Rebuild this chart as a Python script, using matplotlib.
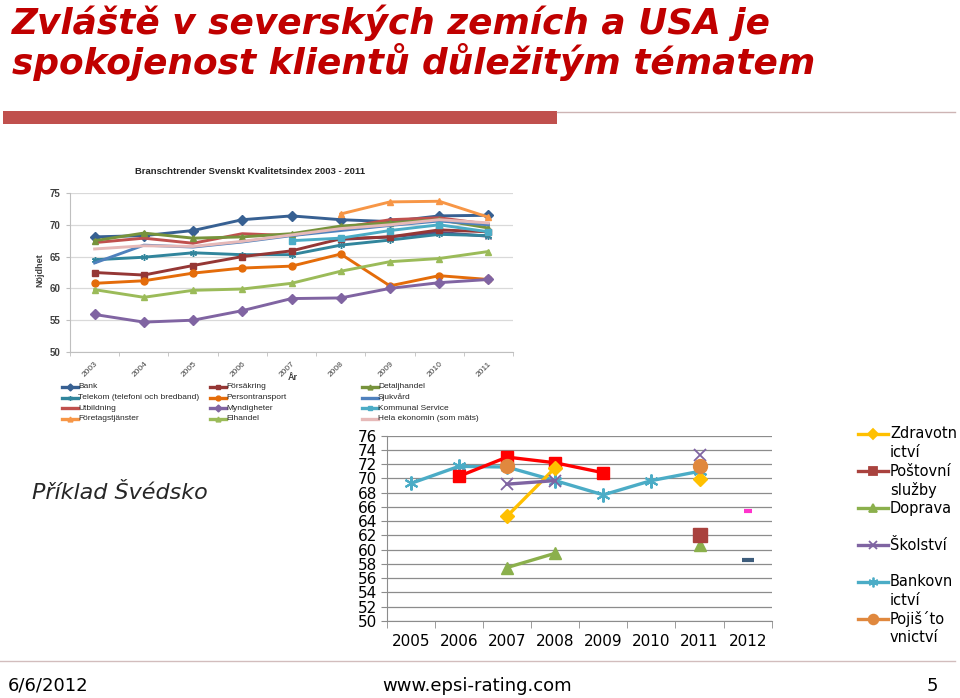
import matplotlib.pyplot as plt
import numpy as np
from matplotlib.lines import Line2D
from matplotlib.patches import Rectangle

W, H = 960, 698
nan = np.nan

# --- Swedish chart (Branschtrender SKI 2003-2011) ---
se_years = ['2003', '2004', '2005', '2006', '2007', '2008', '2009', '2010', '2011']
bank = [68.1, 68.3, 69.1, 70.8, 71.4, 70.8, 70.5, 71.4, 71.5]
forsakring = [62.5, 62.1, 63.6, 65.0, 65.9, 67.8, 68.1, 69.2, 68.9]
detaljhandel = [67.5, 68.7, 67.9, 68.1, 68.6, 69.8, 70.3, 70.8, 69.5]
telekom = [64.5, 64.9, 65.6, 65.3, 65.3, 66.8, 67.6, 68.5, 68.3]
persontransport = [60.8, 61.2, 62.4, 63.2, 63.5, 65.4, 60.4, 62.0, 61.4]
sjukvard = [64.0, 66.8, 66.5, 67.3, 68.3, 69.1, 69.9, 70.6, 70.0]
utbildning = [67.2, 67.9, 67.1, 68.6, 68.3, 69.5, 70.8, 71.1, 70.1]
myndigheter = [55.9, 54.7, 55.0, 56.5, 58.4, 58.5, 60.0, 60.9, 61.4]
kommunal = [nan, nan, nan, nan, 67.5, 67.9, 69.1, 70.0, 68.9]
foretag = [nan, nan, nan, nan, nan, 71.7, 73.6, 73.7, 71.2]
elhandel = [59.8, 58.6, 59.7, 59.9, 60.8, 62.7, 64.2, 64.7, 65.8]
hela = [66.2, 66.7, 66.6, 67.4, 68.4, 69.4, 70.0, 70.8, 70.3]
ovrigt = [nan, nan, nan, nan, nan, 67.7, 68.1, 68.8, 68.2]

# --- Czech chart 2005-2012 ---
cz_years = ['2005', '2006', '2007', '2008', '2009', '2010', '2011', '2012']
zdravotnictvi = [nan, nan, 64.7, 71.5, nan, nan, 69.9, nan]
postovni = [nan, nan, nan, nan, nan, nan, 62.0, nan]
doprava = [nan, nan, 57.5, 59.5, nan, nan, 60.6, nan]
skolstvi = [nan, nan, 69.2, 69.7, nan, nan, 73.3, nan]
bankovnictvi = [69.3, 71.7, 71.6, 69.7, 67.7, 69.7, 71.0, nan]
pojistovnictvi = [nan, nan, 71.8, nan, nan, nan, 71.8, nan]
telekomunikace = [nan, 70.3, 73.0, 72.2, 70.8, nan, nan, nan]
energetika = [nan, nan, nan, nan, nan, nan, nan, 65.5]
plyn = [nan, nan, nan, nan, nan, nan, nan, 58.6]


def fx(x):
    return x / W


def fy(y):
    return 1 - y / H


fig = plt.figure(figsize=(9.6, 6.98), dpi=100)
fig.patch.set_facecolor('white')

# title
tfont = dict(family='DejaVu Sans', weight='bold', style='italic', color='#C00000', fontsize=25.8)
fig.text(fx(12), fy(34), 'Zvláště v severských zemích a USA je', va='baseline', **tfont)
fig.text(fx(12), fy(74), 'spokojenost klientů důležitým tématem', va='baseline', **tfont)
fig.add_artist(Rectangle((fx(3), fy(124)), fx(557) - fx(3), fy(111) - fy(124),
                         transform=fig.transFigure, color='#C0504D', lw=0))
fig.add_artist(Line2D([fx(557), fx(955)], [fy(111.5), fy(111.5)], color='#CDB4B4', lw=1))

# ---------- top (Swedish) chart ----------
se_series = [
    ('Bank', bank, '#376092', 'D'),
    ('Telekom (telefoni och bredband)', telekom, '#31859C', (6, 2, 0)),
    ('Utbildning', utbildning, '#C0504D', None),
    ('Företagstjänster', foretag, '#F79646', '^'),
    ('Försäkring', forsakring, '#953735', 's'),
    ('Persontransport', persontransport, '#E46C0A', 'o'),
    ('Myndigheter', myndigheter, '#8064A2', 'D'),
    ('Elhandel', elhandel, '#9BBB59', '^'),
    ('Detaljhandel', detaljhandel, '#77933C', '^'),
    ('Sjukvård', sjukvard, '#4F81BD', None),
    ('Kommunal Service', kommunal, '#4BACC6', 's'),
    ('Hela ekonomin (som mäts)', hela, '#E6B9B8', None),
]

ax1 = fig.add_axes([fx(70), fy(352), fx(513) - fx(70), fy(193) - fy(352)])
xs = np.arange(len(se_years))
ax1.plot(xs, ovrigt, color='#5F497A', lw=2.1, marker='x', ms=4, zorder=3)
for name, vals, col, mk in se_series:
    ax1.plot(xs, vals, color=col, lw=2.1, marker=mk, ms=5, mec=col, zorder=3)
ax1.set_xlim(-0.5, len(se_years) - 0.5)
ax1.set_ylim(50, 75)
ax1.set_yticks(np.arange(50, 76, 5))
ax1.yaxis.grid(True, color='#D9D9D9', lw=0.9)
ax1.set_axisbelow(True)
for s in ['top', 'right']:
    ax1.spines[s].set_visible(False)
for s in ['left', 'bottom']:
    ax1.spines[s].set_color('#BFBFBF')
ax1.set_xticks(xs)
ax1.set_xticklabels(se_years, rotation=45, ha='right', va='top', rotation_mode='anchor',
                    fontsize=6, color='#404040', family='Liberation Sans')
ax1.set_xticks(np.arange(-0.5, len(se_years), 1), minor=True)
ax1.tick_params(axis='x', which='major', length=0, pad=6)
ax1.tick_params(axis='x', which='minor', length=3, color='#BFBFBF')
ax1.tick_params(axis='y', length=3, color='#BFBFBF', labelsize=7, labelcolor='#404040', pad=4)
for lab in ax1.get_yticklabels():
    lab.set_fontweight('bold')
    lab.set_family('Liberation Sans')
fig.text(fx(250), fy(172), 'Branschtrender Svenskt Kvalitetsindex 2003 - 2011', ha='center', va='center',
         fontsize=6.8, weight='bold', family='Liberation Sans', color='#262626')
fig.text(fx(40), fy(270), 'Nöjdhet', rotation=90, ha='center', va='center',
         fontsize=6.5, weight='bold', family='Liberation Sans', color='#404040')
fig.text(fx(293), fy(377), 'År', ha='center', va='center',
         fontsize=6.5, weight='bold', family='Liberation Sans', color='#404040')

# legend of the Swedish chart (3 columns x 4 rows)
col_x = [62, 210, 362]
row_y = [387, 397.5, 408, 418.5]
for i, (name, vals, col, mk) in enumerate(se_series):
    cx = col_x[i // 4]
    cy = row_y[i % 4]
    fig.add_artist(Line2D([fx(cx), fx(cx + 16)], [fy(cy), fy(cy)], color=col, lw=2.4))
    if mk is not None:
        fig.add_artist(Line2D([fx(cx + 8)], [fy(cy)], color=col, marker=mk, ms=3.5, mec=col))
    fig.text(fx(cx + 16), fy(cy), name, ha='left', va='center', fontsize=6,
             family='Liberation Sans', color='#262626')

# ---------- Czech chart ----------
fig.text(fx(32), fy(493), 'Příklad Švédsko', ha='left', va='center', fontsize=16,
         style='italic', color='#262626')

ax2 = fig.add_axes([fx(386.7), fy(621), fx(771.7) - fx(386.7), fy(435.7) - fy(621)])
xc = np.arange(len(cz_years))
ax2.plot(xc, bankovnictvi, color='#4BACC6', lw=2.4, marker=(6, 2, 0), ms=10, mew=1.5, zorder=3)
ax2.plot(xc, telekomunikace, color='#FF0000', lw=2.4, marker='s', ms=9, zorder=4)
ax2.plot(xc, zdravotnictvi, color='#FFC000', lw=2.4, marker='D', ms=7, zorder=4)
ax2.plot(xc, skolstvi, color='#7F64A2', lw=2.4, marker='x', ms=9, mew=1.3, zorder=4)
ax2.plot(xc, doprava, color='#8BB04C', lw=2.4, marker='^', ms=9, zorder=4)
ax2.plot(xc, postovni, color='#A9423E', lw=2.4, marker='s', ms=10, zorder=4)
ax2.plot(xc, pojistovnictvi, color='#E0883E', lw=2.4, marker='o', ms=10, zorder=4)
ax2.plot(xc, energetika, color='#FF33CC', lw=0, marker='_', ms=6, mew=3, zorder=4)
ax2.plot(xc, plyn, color='#3E5D7C', lw=0, marker='_', ms=8, mew=3, zorder=4)

ax2.set_xlim(-0.5, len(cz_years) - 0.5)
ax2.set_ylim(50, 76)
ax2.set_yticks(np.arange(50, 77, 2))
ax2.yaxis.grid(True, color='#8C8C8C', lw=0.9)
ax2.set_axisbelow(True)
for s in ['top', 'right']:
    ax2.spines[s].set_visible(False)
for s in ['left', 'bottom']:
    ax2.spines[s].set_color('#8C8C8C')
ax2.set_xticks(xc)
ax2.set_xticklabels(cz_years, fontsize=11, color='black')
ax2.set_xticks(np.arange(-0.5, len(cz_years), 1), minor=True)
ax2.tick_params(axis='x', which='major', length=0, pad=9)
ax2.tick_params(axis='x', which='minor', length=5, color='#8C8C8C')
ax2.tick_params(axis='y', length=4, color='#8C8C8C', labelsize=11, pad=3)

# legend of the Czech chart
cz_legend = [
    ('Zdravotn\nictví', '#FFC000', 'D', 5),
    ('Poštovní\nslužby', '#A9423E', 's', 6),
    ('Doprava', '#8BB04C', '^', 6),
    ('Školství', '#7F64A2', 'x', 6),
    ('Bankovn\nictví', '#4BACC6', (6, 2, 0), 7),
    ('Pojiš´to\nvnictví', '#E0883E', 'o', 7),
]
leg_y = [434, 471, 508, 545, 582, 619]
for (name, col, mk, ms), ly in zip(cz_legend, leg_y):
    fig.add_artist(Line2D([fx(858), fx(888)], [fy(ly), fy(ly)], color=col, lw=2.4))
    fig.add_artist(Line2D([fx(873)], [fy(ly)], color=col, marker=mk, ms=ms, mec=col, mew=1.3))
    for k, part in enumerate(name.split('\n')):
        fig.text(fx(890), fy(ly + k * 18.5), part, ha='left', va='center', fontsize=10.5, color='black')

# footer
fig.add_artist(Line2D([fx(0), fx(955)], [fy(661), fy(661)], color='#D2BDBD', lw=1))
fig.text(fx(8), fy(686), '6/6/2012', ha='left', va='center', fontsize=13, color='black')
fig.text(fx(477), fy(686), 'www.epsi-rating.com', ha='center', va='center', fontsize=13, color='black')
fig.text(fx(938), fy(686), '5', ha='right', va='center', fontsize=13, color='black')

fig.savefig('out.png', dpi=100)
